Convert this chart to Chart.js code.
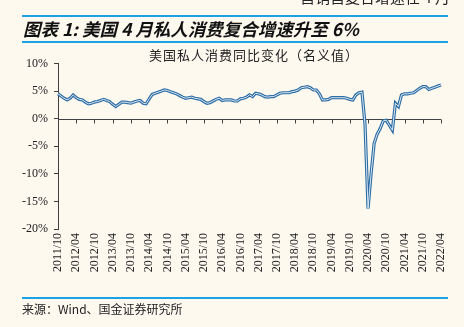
<!DOCTYPE html>
<html>
<head>
<meta charset="utf-8">
<script src="https://cdn.jsdelivr.net/npm/chart.js@4/dist/chart.umd.min.js"></script>
<style>
  html, body { margin: 0; padding: 0; }
  body {
    width: 464px; height: 327px; overflow: hidden; position: relative;
    background: #fdf9ef;
    font-family: "Noto Sans CJK SC", "Noto Sans", sans-serif;
  }
  canvas { position: absolute; left: 0; top: 0; }
  .rule { position: absolute; left: 22px; width: 426px; height: 2px; background: #19a3e6; }
  .cut { position: absolute; left: 300px; top: -14px; font-size: 15px; color: #222; white-space: nowrap; }
  .title { position: absolute; left: 23px; top: 16px; font-size: 17.5px; font-weight: bold; font-style: italic; color: #111; white-space: nowrap; }
  .sub { position: absolute; left: 8px; width: 492px; top: 45px; text-align: center; font-size: 13px; color: #222; letter-spacing: 1px; white-space: nowrap; }
  .src { position: absolute; left: 22px; top: 300px; font-size: 12px; color: #222; white-space: nowrap; }
</style>
</head>
<body>
<canvas id="chart" width="464" height="327"></canvas>
<div class="cut">营销售复合增速在 4 月</div>
<div class="rule" style="top:15px"></div>
<div class="title">图表 1: 美国 4 月私人消费复合增速升至 6%</div>
<div class="rule" style="top:41px"></div>
<div class="sub">美国私人消费同比变化（名义值）</div>
<div class="rule" style="top:297px"></div>
<div class="src">来源：Wind、国金证券研究所</div>

<script>
// 月份 2011/10 ~ 2022/04
const months = [];
for (let y = 2011, m = 10; y < 2022 || (y === 2022 && m <= 4); m++) {
  if (m > 12) { m = 1; y++; }
  months.push(y + '/' + String(m).padStart(2, '0'));
}

// 美国私人消费同比 (%)
const pceYoy = [
  4.5, 4.1, 3.7,                                              // 2011
  3.4, 3.7, 4.3, 3.8, 3.5, 3.4, 3.0, 2.7, 2.8, 3.0, 3.1, 3.3,  // 2012
  3.5, 3.3, 3.1, 2.6, 2.2, 2.6, 3.0, 3.0, 2.9, 2.8, 3.0, 3.2,  // 2013
  3.3, 2.8, 2.7, 3.6, 4.4, 4.6, 4.8, 5.0, 5.2, 5.1, 4.9, 4.7,  // 2014
  4.5, 4.2, 3.9, 3.7, 3.8, 3.9, 3.7, 3.6, 3.5, 3.1, 2.8, 2.9,  // 2015
  3.2, 3.5, 3.7, 3.3, 3.4, 3.4, 3.4, 3.2, 3.2, 3.6, 3.7, 3.9,  // 2016
  4.3, 4.0, 4.6, 4.5, 4.3, 4.0, 3.9, 4.0, 4.0, 4.3, 4.6, 4.7,  // 2017
  4.7, 4.7, 4.9, 5.0, 5.2, 5.6, 5.7, 5.8, 5.6, 5.2, 5.2, 4.5,  // 2018
  3.4, 3.4, 3.5, 3.8, 3.8, 3.8, 3.8, 3.8, 3.7, 3.5, 3.4, 4.3,  // 2019
  4.7, 4.8, -1.0, -16.3, -10.0, -4.5, -2.8, -1.8, -0.4, -0.3, -1.2, -2.1, // 2020
  2.8, 2.2, 4.3, 4.5, 4.5, 4.6, 4.7, 5.1, 5.5, 5.8, 5.8, 5.3,  // 2021
  5.5, 5.7, 5.9, 6.1                                           // 2022
];

const yTicks = [-20, -15, -10, -5, 0, 5, 10];
const labelEvery = 6;

const axisColor = '#404040';
const serif = "'Liberation Serif', 'Times New Roman', serif";

// 0 轴和下方刻度
const zeroAxis = {
  id: 'zeroAxis',
  beforeDatasetsDraw(chart) {
    const { ctx, chartArea, scales } = chart;
    const y0 = Math.round(scales.y.getPixelForValue(0)) + 0.5;
    ctx.save();
    ctx.strokeStyle = axisColor;
    ctx.lineWidth = 1;
    ctx.beginPath();
    ctx.moveTo(chartArea.left, y0);
    ctx.lineTo(chartArea.right, y0);
    for (let i = 0; i < months.length; i += labelEvery) {
      const x = Math.round(scales.x.getPixelForValue(i)) + 0.5;
      ctx.moveTo(x, y0);
      ctx.lineTo(x, y0 + 4);
    }
    ctx.stroke();
    ctx.restore();
  }
};

new Chart(document.getElementById('chart'), {
  type: 'line',
  data: {
    labels: months,
    datasets: [
      { data: pceYoy, borderColor: '#dbe8f3', borderWidth: 1, pointRadius: 0, tension: 0 },
      { data: pceYoy, borderColor: '#2d6da5', borderWidth: 3.2, pointRadius: 0, tension: 0 }
    ]
  },
  options: {
    responsive: false,
    animation: false,
    devicePixelRatio: 1,
    layout: { padding: { left: 0, top: 63.5, right: 23, bottom: 0 } },
    plugins: { legend: { display: false }, tooltip: { enabled: false } },
    scales: {
      x: {
        grid: { display: false, drawTicks: false },
        border: { display: false },
        afterFit(s) { s.height = 98; },
        ticks: {
          autoSkip: false,
          minRotation: 90,
          maxRotation: 90,
          padding: 4,
          color: '#222',
          font: { family: serif, size: 12 },
          callback: (v, i) => (i % labelEvery === 0 ? months[i] : null)
        }
      },
      y: {
        min: -20,
        max: 10,
        afterFit(s) { s.width = 58; },
        afterBuildTicks(s) { s.ticks = yTicks.map(v => ({ value: v })); },
        grid: { drawOnChartArea: false, drawTicks: true, tickLength: 4, color: axisColor },
        border: { display: true, color: axisColor },
        ticks: {
          padding: 6,
          color: '#222',
          font: { family: serif, size: 12 },
          callback: v => v + '%'
        }
      }
    }
  },
  plugins: [zeroAxis]
});
</script>
</body>
</html>
